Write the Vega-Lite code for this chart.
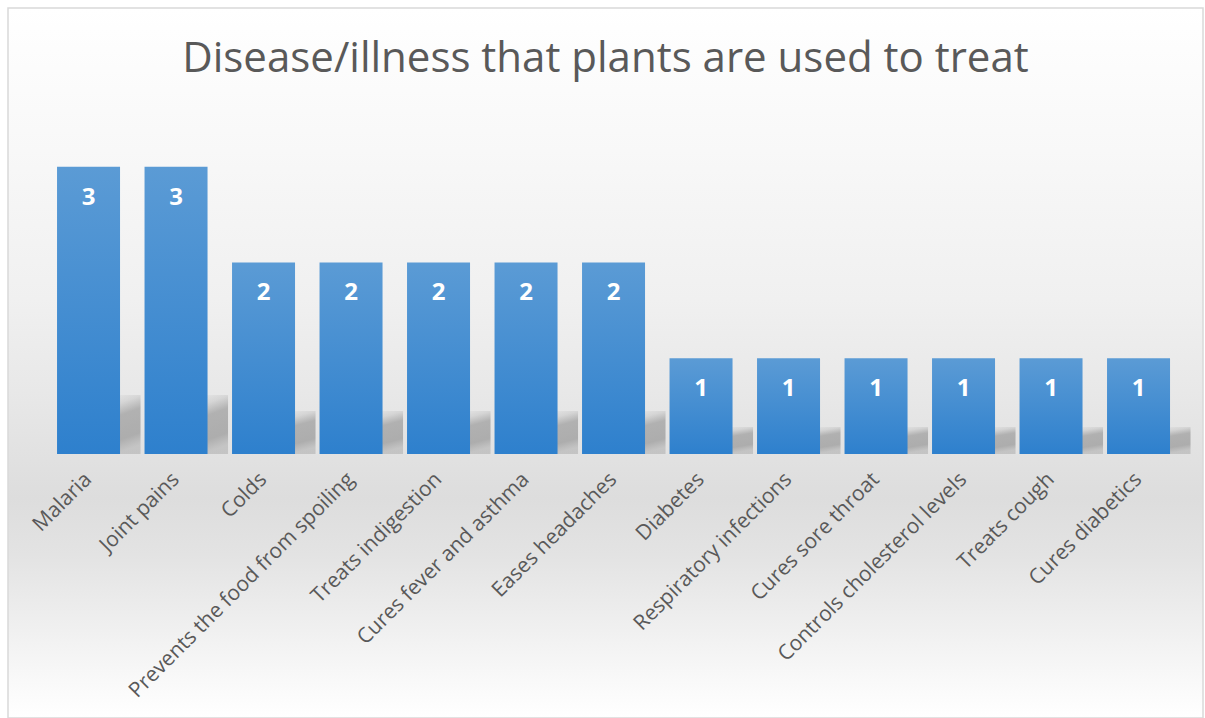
{
  "$schema": "https://vega.github.io/schema/vega-lite/v6.json",
  "width": 1195,
  "height": 710,
  "autosize": {"type": "none"},
  "padding": {"left": 8, "top": 8, "right": 2, "bottom": 0},
  "background": "#ffffff",
  "config": {
    "view": {
      "stroke": "#d9d9d9",
      "strokeWidth": 1.5,
      "fill": {
        "gradient": "linear", "x1": 0, "y1": 0, "x2": 0, "y2": 1,
        "stops": [
          {"offset": 0, "color": "#ffffff"},
          {"offset": 0.2, "color": "#f8f8f8"},
          {"offset": 0.41, "color": "#f0f0f0"},
          {"offset": 0.555, "color": "#e7e7e7"},
          {"offset": 0.69, "color": "#dddddd"},
          {"offset": 0.77, "color": "#e3e3e3"},
          {"offset": 0.86, "color": "#eeeeee"},
          {"offset": 0.94, "color": "#f8f8f8"},
          {"offset": 1, "color": "#ffffff"}
        ]
      }
    }
  },
  "title": {
    "text": "Disease/illness that plants are used to treat",
    "font": "Open Sans",
    "fontSize": 42,
    "fontWeight": "normal",
    "color": "#595959",
    "anchor": "middle",
    "frame": "group",
    "baseline": "alphabetic",
    "offset": -106
  },
  "data": {
    "values": [
      {"illness": "Malaria", "count": 3},
      {"illness": "Joint pains", "count": 3},
      {"illness": "Colds", "count": 2},
      {"illness": "Prevents the food from spoiling", "count": 2},
      {"illness": "Treats indigestion", "count": 2},
      {"illness": "Cures fever and asthma", "count": 2},
      {"illness": "Eases headaches", "count": 2},
      {"illness": "Diabetes", "count": 1},
      {"illness": "Respiratory infections", "count": 1},
      {"illness": "Cures sore throat", "count": 1},
      {"illness": "Controls cholesterol levels", "count": 1},
      {"illness": "Treats cough", "count": 1},
      {"illness": "Cures diabetics", "count": 1}
    ]
  },
  "encoding": {
    "x": {
      "field": "illness",
      "type": "nominal",
      "sort": null,
      "scale": {"paddingInner": 0.28, "paddingOuter": 0.4686, "align": 0.598},
      "axis": {
        "title": null,
        "orient": "bottom",
        "offset": -264,
        "domain": false,
        "ticks": false,
        "grid": false,
        "labelAngle": -45,
        "labelAlign": "right",
        "labelBaseline": "middle",
        "labelPadding": 22,
        "labelFont": "Open Sans",
        "labelFontSize": 21,
        "labelColor": "#595959",
        "labelLimit": 500
      }
    }
  },
  "layer": [
    {
      "mark": {
        "type": "bar",
        "width": {"band": 0.508},
        "xOffset": 36,
        "fill": {
          "gradient": "linear", "x1": 0, "y1": 0, "x2": 0.2, "y2": 1,
          "stops": [
            {"offset": 0, "color": "rgba(145,145,145,0)"},
            {"offset": 0.2, "color": "rgba(145,145,145,0.2)"},
            {"offset": 0.4, "color": "rgba(145,145,145,0.62)"},
            {"offset": 0.8, "color": "rgba(145,145,145,0.66)"},
            {"offset": 1, "color": "rgba(160,160,160,0.45)"}
          ]
        }
      },
      "encoding": {
        "y": {"field": "count", "type": "quantitative", "scale": {"domain": [-17.19, 27.19], "nice": false, "zero": false}, "axis": null},
        "y2": {"datum": -0.69}
      }
    },
    {
      "mark": {
        "type": "bar",
        "fill": {
          "gradient": "linear", "x1": 0, "y1": 0, "x2": 0, "y2": 1,
          "stops": [
            {"offset": 0, "color": "#5b9bd5"},
            {"offset": 1, "color": "#2e80cd"}
          ]
        }
      },
      "encoding": {
        "y": {"field": "count", "type": "quantitative", "scale": {"domain": [-2.756, 4.656], "nice": false, "zero": false}, "axis": null},
        "y2": {"datum": 0}
      }
    },
    {
      "mark": {
        "type": "text",
        "baseline": "alphabetic",
        "dy": 38,
        "font": "Open Sans",
        "fontSize": 24,
        "fontWeight": "bold",
        "fill": "#ffffff"
      },
      "encoding": {
        "y": {"field": "count", "type": "quantitative", "scale": {"domain": [-2.756, 4.656], "nice": false, "zero": false}, "axis": null},
        "text": {"field": "count", "type": "quantitative"}
      }
    }
  ],
  "resolve": {"scale": {"y": "independent"}}
}
